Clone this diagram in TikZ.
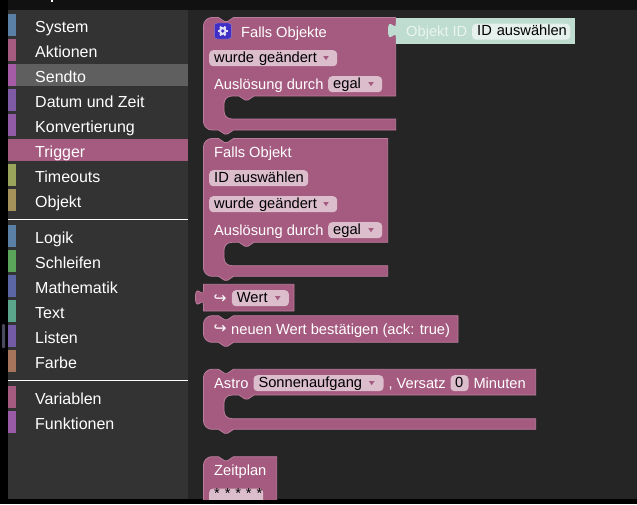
\documentclass[tikz,border=0pt]{standalone}
\usepackage{fontspec}
\setmainfont{Liberation Sans}
\newfontfamily\arrowfont{DejaVu Sans}
\definecolor{topbar}{HTML}{111111}
\definecolor{sidebar}{HTML}{333333}
\definecolor{workarea}{HTML}{252525}
\definecolor{hovergray}{HTML}{5F5F5F}
\definecolor{scrollgray}{HTML}{4A4A5E}
\definecolor{iconblue}{HTML}{3F2FC4}
\definecolor{iconrim}{HTML}{8F7FD0}
\definecolor{trigpink}{HTML}{A55B80}
\definecolor{trigrim}{HTML}{B97C9B}
\definecolor{fieldpink}{HTML}{DBBDCC}
\definecolor{objgreen}{HTML}{BFDCD1}
\definecolor{objfield}{HTML}{E6F1ED}
\definecolor{objtext}{HTML}{EAF4F0}
\tikzset{
  catlabel/.style={anchor=base west,inner sep=0pt,text=white,font=\fontsize{16}{18}\selectfont},
  blocklabel/.style={anchor=base west,inner sep=0pt,text=white,font=\fontsize{14.67}{18}\selectfont},
  fieldbox/.style={anchor=north west,fill=fieldpink,rounded corners=4pt,text=black,
    font=\fontsize{14.67}{18}\selectfont,inner xsep=5pt,inner ysep=0pt,
    text height=12.2pt,text depth=3.8pt,text width=#1-10pt,align=left},
  blockbody/.style={fill=trigpink,draw=trigrim,line width=0.8pt},
}
% block with a statement input: left, top, right, input top, input bottom, bottom
\newcommand{\inputblock}[6]{
  \draw[blockbody] (#1,#2+8) .. controls (#1,#2+4) and (#1+4,#2) .. (#1+8,#2)
    -- (#1+15,#2) -- ++(6,4) -- ++(3,0) -- ++(6,-4) -- (#3,#2) -- (#3,#4)
    -- (#1+50.5,#4) -- ++(-6,4) -- ++(-3,0) -- ++(-6,-4) -- (#1+28.5,#4)
    .. controls (#1+23,#4) and (#1+20.5,#4+4) .. (#1+20.5,#4+8) -- (#1+20.5,#5-8)
    .. controls (#1+20.5,#5-3) and (#1+24,#5) .. (#1+28.5,#5) -- (#3,#5) -- (#3,#6)
    -- (#1+30,#6) -- ++(-6,4) -- ++(-3,0) -- ++(-6,-4) -- (#1+8,#6)
    .. controls (#1+4,#6) and (#1,#6-4) .. (#1,#6-8) -- cycle;
}
\newcommand{\dropmark}[2]{
  \fill[trigpink] (#1-2.8,#2-2) -- (#1+2.8,#2-2) -- (#1,#2+2.2) -- cycle;
}
\begin{document}
\begin{tikzpicture}[x=1pt,y=-1pt]
  \useasboundingbox (0,0) rectangle (637,504);
  \fill[black] (0,0) rectangle (637,504);
  \fill[topbar] (8,0) rectangle (637,10);
  \fill[white] (50.7,0) rectangle (52.5,2);
  \fill[sidebar] (8,10) rectangle (188,499);
  \fill[workarea] (188,10) rectangle (637,499);
  \fill[hovergray] (16,64) rectangle (188,86);
  \fill[trigpink] (8,139) rectangle (188,161);
  \fill[scrollgray,rounded corners=1pt] (2,324) rectangle (5,348);
  % categories
  \foreach \catname/\catcol/\ypos in {
    System/5B80A5/14, Aktionen/A55B80/39, Sendto/A55BA5/64, Datum und Zeit/805BA5/89,
    Konvertierung/925BA5/114, Trigger/A55B80/139, Timeouts/9AA55B/164, Objekt/A5925B/189,
    Logik/5B80A5/225, Schleifen/5BA55B/250, Mathematik/5B67A5/275, Text/5BA58C/300,
    Listen/745BA5/325, Farbe/A5745B/350, Variablen/A55B80/386, Funktionen/995BA6/411}{
    \definecolor{swatch}{HTML}{\catcol}
    \fill[swatch] (8,\ypos) rectangle (16,\ypos+22);
    \node[catlabel] (cat\ypos) at (35,\ypos+18) {\catname};
  }
  \draw[white,line width=1pt] (8,219.5) -- (188,219.5);
  \draw[white,line width=1pt] (8,380.5) -- (188,380.5);
  % Falls Objekte
  \inputblock{203.5}{17.5}{395.7}{96}{119}{130}
  \draw[iconrim,fill=iconblue,rounded corners=3pt] (214.3,23) rectangle (231.4,39);
  \foreach \a in {0,60,...,300}
    \draw[white!85!iconblue,line width=2pt] (222.8,31) -- ++(\a:5.2);
  \fill[white!85!iconblue] (222.8,31) circle (3.9);
  \fill[iconblue] (222.8,31) circle (1.9);
  \node[blocklabel] (fallsobjekte) at (241,37) {Falls Objekte};
  \node[fieldbox=128pt] (change1) at (209,50) {wurde~geändert};
  \dropmark{326}{58}
  \node[blocklabel] (trig1) at (214,89) {Auslösung durch};
  \node[fieldbox=54pt] (egal1) at (328,76) {egal};
  \dropmark{371}{84}
  % Objekt ID
  \fill[objgreen] (396,18) rectangle (575,44);
  \fill[objgreen] (396,38) .. controls (396,28) and (388,46) .. (388,30.5)
    .. controls (388,15) and (396,33) .. (396,23) -- cycle;
  \node[blocklabel,text=objtext] (objektid) at (406,36) {Objekt ID};
  \node[fieldbox=98pt,fill=objfield] (idfield1) at (472,23.5) {ID~auswählen};
  % Falls Objekt
  \inputblock{203.5}{138.5}{387.7}{242.3}{265.7}{276.3}
  \node[blocklabel] (fallsobjekt) at (214,157) {Falls Objekt};
  \node[fieldbox=99pt] (idfield2) at (209,170) {ID~auswählen};
  \node[fieldbox=128pt] (change2) at (209,196) {wurde~geändert};
  \dropmark{326}{204}
  \node[blocklabel] (trig2) at (214,235) {Auslösung durch};
  \node[fieldbox=54pt] (egal2) at (328,222) {egal};
  \dropmark{371}{230}
  % Wert
  \draw[blockbody] (203.5,284.3) -- (294,284.3) -- (294,311) -- (203.5,311) -- (203.5,305)
    .. controls (203.5,295) and (195.5,313) .. (195.5,297.5)
    .. controls (195.5,282) and (203.5,300) .. (203.5,290) -- cycle;
  \node[blocklabel,font=\arrowfont\fontsize{15.5}{18}\selectfont] (wertarrow) at (213.5,303) {↪};
  \node[fieldbox=57pt] (wert) at (231.7,290) {Wert};
  \dropmark{277.7}{298}
  % neuen Wert
  \draw[blockbody] (203.5,323.7) .. controls (203.5,319.7) and (207.5,315.7) .. (211.5,315.7)
    -- (218.5,315.7) -- ++(6,4) -- ++(3,0) -- ++(6,-4) -- (458,315.7) -- (458,342.3)
    -- (233.5,342.3) -- ++(-6,4) -- ++(-3,0) -- ++(-6,-4) -- (211.5,342.3)
    .. controls (207.5,342.3) and (203.5,338.3) .. (203.5,334.3) -- cycle;
  \node[blocklabel,font=\arrowfont\fontsize{15.5}{18}\selectfont] (ackarrow) at (213.5,333) {↪};
  \node[blocklabel] (ack) at (231,334) {neuen Wert bestätigen (ack: true)};
  % Astro
  \inputblock{203.5}{369.3}{535.7}{395}{418.7}{429.3}
  \node[blocklabel] (astro) at (214,388) {Astro};
  \node[fieldbox=130pt] (sonne) at (253.3,375) {Sonnenaufgang};
  \dropmark{371.7}{383}
  \node[blocklabel] (versatz) at (388.3,388) {, Versatz};
  \node[fieldbox=18pt,text width=9pt,inner xsep=4.5pt] (offset) at (450.3,375) {0};
  \node[blocklabel] (minuten) at (473.3,388) {Minuten};
  % Zeitplan
  \begin{scope}
    \clip (188,440) rectangle (637,499);
    \draw[blockbody] (203.5,520) -- (203.5,464.7) .. controls (203.5,460.7) and (207.5,456.7) .. (211.5,456.7)
      -- (218.5,456.7) -- ++(6,4) -- ++(3,0) -- ++(6,-4) -- (276.7,456.7) -- (276.7,520) -- cycle;
    \node[blocklabel] (zeitplan) at (214,475) {Zeitplan};
    \node[fieldbox=54pt,text height=10pt,text depth=8pt] (cronfield) at (209,488.3) {*~*~*~*~*};
  \end{scope}
\end{tikzpicture}
\end{document}
